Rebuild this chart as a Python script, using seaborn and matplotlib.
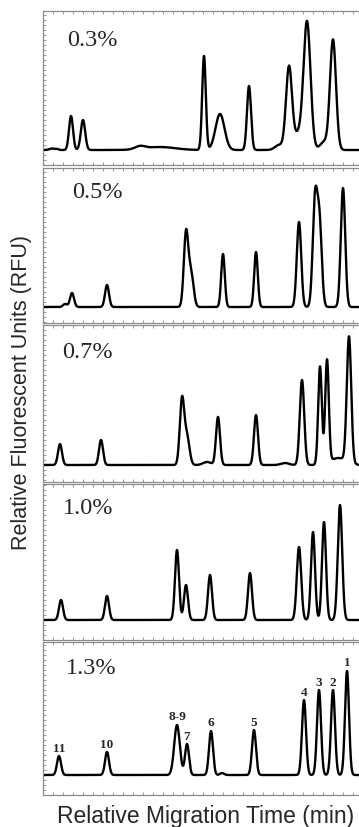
import numpy as np
import pandas as pd
import matplotlib
matplotlib.use("Agg")
import matplotlib.pyplot as plt
from matplotlib.ticker import MultipleLocator
import seaborn as sns

# ---- data (peak position, height, width; x in relative migration units) ----
conc_labels = ["0.3%", "0.5%", "0.7%", "1.0%", "1.3%"]

p03_pos = [9, 14, 28, 40, 97, 117, 161, 177, 206, 236, 246, 255, 264, 281, 290]
p03_h   = [1.5, 1.0, 34, 30, 3, 3, 94, 36, 64, 5, 83, 15, 128, 8, 110]
p03_sig = [2.5, 1.5, 2.0, 2.2, 5, 15, 1.8, 4.5, 2.0, 4.0, 3.0, 4.0, 3.5, 4.0, 3.0]

p05_pos = [22, 29, 64, 143, 148, 180, 213, 256, 272, 276.5, 300]
p05_h   = [3, 14, 22, 73, 34, 53, 55, 85, 105, 82, 119]
p05_sig = [2.0, 2.0, 2.0, 2.2, 2.5, 1.8, 1.8, 2.2, 2.3, 2.3, 2.2]

p07_pos = [17, 58, 139, 144, 164, 175, 213, 242, 259, 277, 284, 295, 306]
p07_h   = [21, 25, 65, 28, 3, 48, 50, 2, 85, 98, 103, 7, 126]
p07_sig = [2.0, 2.0, 2.2, 2.5, 4.0, 2.0, 2.0, 4.0, 2.2, 1.8, 1.8, 8.0, 2.2]

p10_pos = [18, 64, 134, 143, 167, 207, 256, 270, 281, 297]
p10_h   = [20, 24, 70, 35, 45, 47, 73, 88, 98, 115]
p10_sig = [2.0, 2.0, 2.0, 2.0, 2.0, 2.0, 2.2, 2.0, 2.0, 2.2]

p13_pos = [16, 64, 134, 144, 168, 179, 211, 261, 276, 290, 304]
p13_h   = [19, 23, 50, 31, 44, 2, 45, 75, 85, 85, 104]
p13_sig = [2.0, 2.0, 2.8, 2.0, 2.0, 2.0, 2.0, 2.0, 2.0, 2.0, 2.0]
p13_names = ["11", "10", "8-9", "7", "6", "", "5", "4", "3", "2", "1"]

panels = [
    (p03_pos, p03_h, p03_sig),
    (p05_pos, p05_h, p05_sig),
    (p07_pos, p07_h, p07_sig),
    (p10_pos, p10_h, p10_sig),
    (p13_pos, p13_h, p13_sig),
]

# ---- layout (pixels) ----
W, H = 359, 828
left_px, width_px = 43, 322
panel_px = [(12, 166, 151), (169, 324, 308), (326, 483, 466), (485, 641, 621), (643, 796, 776)]
label_px = [(67, 40), (72, 193), (62, 353), (63, 509), (66, 668)]

sns.set_style("white")
plt.rcParams["font.family"] = ["Liberation Sans", "DejaVu Sans"]

fig = plt.figure(figsize=(W / 100, H / 100), dpi=100)
spine_col = "#8a8a8a"
x = np.linspace(0, width_px, 2000)

for i, ((pos, hts, sig), (top, bot, base)) in enumerate(zip(panels, panel_px)):
    ax = fig.add_axes([left_px / W, 1 - bot / H, width_px / W, (bot - top) / H])
    y = np.zeros_like(x)
    for p, h, s in zip(pos, hts, sig):
        y += h * np.exp(-0.5 * ((x - p) / s) ** 2)
    df = pd.DataFrame({"t": x, "rfu": y})
    sns.lineplot(data=df, x="t", y="rfu", ax=ax, color="black", linewidth=1.7)
    ax.set_xlim(0, width_px)
    ax.set_ylim(-(bot - base), base - top)
    ax.set_xlabel("")
    ax.set_ylabel("")
    for side in ["left", "top", "bottom"]:
        ax.spines[side].set_color(spine_col)
        ax.spines[side].set_linewidth(0.9)
    ax.spines["right"].set_visible(False)
    ax.xaxis.set_major_locator(MultipleLocator(10))
    ax.yaxis.set_major_locator(MultipleLocator(5))
    ax.tick_params(axis="x", which="major", direction="in", length=2, width=0.6,
                   color=spine_col, top=True, bottom=True, labelbottom=False)
    ax.tick_params(axis="y", which="major", direction="in", length=2, width=0.6,
                   color=spine_col, left=True, right=False, labelleft=False)
    lx, ly = label_px[i]
    ax.text((lx - left_px), base - ly, conc_labels[i], fontsize=17.5,
            family=["Liberation Serif", "DejaVu Serif"], ha="left", va="center")
    if i == 4:
        for p, h, name in zip(pos, hts, p13_names):
            if name:
                ax.text(p, h + 2.5, name, fontsize=9.5, fontweight="bold",
                        family=["Liberation Serif", "DejaVu Serif"],
                        ha="center", va="bottom")

fig.text(22 / W, 1 - 393 / H, "Relative Fluorescent Units (RFU)", rotation=90,
         ha="center", va="center", fontsize=15.5)
fig.text(206 / W, 1 - 817 / H, "Relative Migration Time (min)",
         ha="center", va="center", fontsize=16.5)

fig.savefig("out.png", dpi=100)
